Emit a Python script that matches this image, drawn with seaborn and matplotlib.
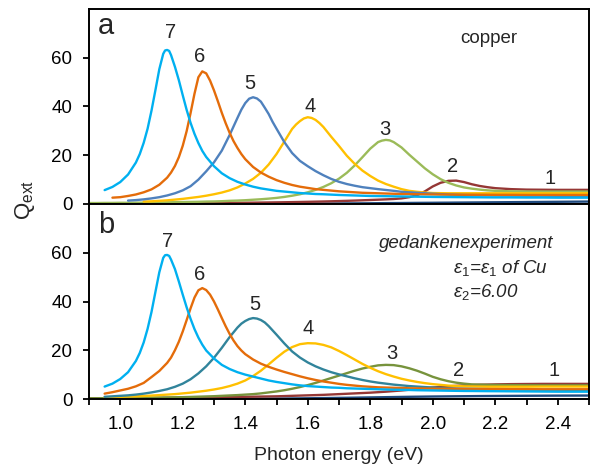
import matplotlib
matplotlib.use("Agg")
import matplotlib.pyplot as plt
from matplotlib.ticker import MultipleLocator
import pandas as pd
import seaborn as sns

nan = float("nan")

# photon energy grid (eV)
energy = [
    0.900, 0.925, 0.950, 0.975, 1.000, 1.025, 1.050, 1.075, 1.100, 1.125,
    1.150, 1.175, 1.200, 1.225, 1.250, 1.275, 1.300, 1.325, 1.350, 1.375,
    1.400, 1.425, 1.450, 1.475, 1.500, 1.525, 1.550, 1.575, 1.600, 1.625,
    1.650, 1.675, 1.700, 1.725, 1.750, 1.775, 1.800, 1.825, 1.850, 1.875,
    1.900, 1.925, 1.950, 1.975, 2.000, 2.025, 2.050, 2.075, 2.100, 2.125,
    2.150, 2.175, 2.200, 2.250, 2.300, 2.350, 2.400, 2.450, 2.500,
]

# (a) copper: extinction efficiency for structures 1..7
cu_1 = [
    0.1, 0.1, 0.1, 0.1, 0.1, 0.1, 0.1, 0.1, 0.1, 0.1,
    0.1, 0.1, 0.1, 0.1, 0.1, 0.1, 0.1, 0.1, 0.1, 0.1,
    0.1, 0.1, 0.1, 0.1, 0.1, 0.12, 0.13, 0.14, 0.15, 0.17,
    0.18, 0.2, 0.22, 0.24, 0.26, 0.28, 0.3, 0.33, 0.36, 0.38,
    0.4, 0.43, 0.46, 0.48, 0.5, 0.53, 0.55, 0.58, 0.6, 0.63,
    0.65, 0.68, 0.7, 0.75, 0.8, 0.85, 0.9, 0.95, 1.0,
]
cu_2 = [
    0.2, 0.2, 0.2, 0.22, 0.23, 0.24, 0.25, 0.26, 0.27, 0.28,
    0.3, 0.31, 0.33, 0.35, 0.37, 0.39, 0.41, 0.43, 0.46, 0.49,
    0.52, 0.55, 0.59, 0.63, 0.67, 0.72, 0.77, 0.83, 0.89, 0.96,
    1.03, 1.11, 1.2, 1.3, 1.4, 1.52, 1.64, 1.77, 1.9, 2.05,
    2.3, 2.8, 3.6, 5.2, 7.2, 8.7, 9.5, 9.6, 9.0, 8.1,
    7.4, 6.9, 6.5, 6.1, 5.9, 5.85, 5.8, 5.8, 5.8,
]
cu_3 = [
    0.4, 0.4, 0.45, 0.45, 0.5, 0.5, 0.55, 0.55, 0.6, 0.65,
    0.7, 0.75, 0.8, 0.85, 0.9, 1.0, 1.05, 1.15, 1.3, 1.4,
    1.55, 1.75, 1.95, 2.2, 2.5, 2.9, 3.4, 4.0, 4.8, 5.8,
    7.0, 8.5, 10.4, 12.8, 15.8, 19.2, 22.7, 25.4, 26.3, 25.4,
    23.2, 20.2, 17.4, 14.6, 12.2, 10.2, 8.7, 7.6, 6.8, 6.3,
    5.9, 5.6, 5.4, 5.2, 5.1, 5.1, 5.1, 5.1, 5.1,
]
cu_4 = [
    nan, nan, nan, nan, nan, nan, nan, 1.0, 1.1, 1.3,
    1.5, 1.8, 2.1, 2.5, 2.9, 3.4, 4.0, 4.7, 5.6, 6.8,
    8.4, 10.3, 12.8, 16.2, 20.5, 25.6, 30.8, 34.0, 35.6, 34.5,
    31.6, 27.6, 23.8, 19.8, 16.5, 13.7, 11.5, 9.6, 8.2, 7.1,
    6.1, 5.4, 5.0, 4.7, 4.5, 4.45, 4.4, 4.4, 4.4, 4.4,
    4.4, 4.4, 4.4, 4.4, 4.4, 4.4, 4.4, 4.4, 4.4,
]
cu_5 = [
    nan, nan, nan, nan, nan, 1.4, 1.6, 1.9, 2.3, 2.8,
    3.5, 4.4, 5.6, 7.3, 10.0, 13.4, 17.1, 21.9, 28.3, 35.3,
    41.4, 43.8, 42.0, 36.9, 30.9, 25.4, 20.9, 17.7, 15.5, 13.5,
    11.8, 10.3, 9.1, 8.2, 7.5, 6.9, 6.5, 6.1, 5.75, 5.4,
    5.0, 4.8, 4.6, 4.4, 4.2, 4.05, 3.9, 3.8, 3.7, 3.65,
    3.6, 3.55, 3.5, 3.45, 3.4, 3.4, 3.35, 3.3, 3.3,
]
cu_6 = [
    nan, nan, nan, 2.6, 2.8, 3.3, 3.9, 4.8, 6.0, 7.9,
    10.8, 15.6, 23.9, 37.3, 52.0, 53.6, 46.6, 37.4, 29.2, 23.0,
    18.4, 15.2, 12.9, 11.2, 9.8, 8.7, 7.8, 7.1, 6.6, 6.1,
    5.8, 5.5, 5.2, 5.0, 4.8, 4.6, 4.5, 4.4, 4.3, 4.2,
    4.1, 4.05, 4.0, 3.95, 3.9, 3.87, 3.85, 3.82, 3.8, 3.8,
    3.8, 3.77, 3.75, 3.75, 3.7, 3.7, 3.7, 3.7, 3.7,
]
cu_7 = [
    nan, nan, 5.7, 7.0, 9.0, 12.1, 17.0, 25.1, 38.3, 55.3,
    63.2, 56.3, 44.6, 33.3, 25.0, 19.3, 15.5, 12.6, 10.6, 9.1,
    8.0, 7.1, 6.4, 5.9, 5.4, 5.1, 4.8, 4.5, 4.3, 4.1,
    4.0, 3.85, 3.7, 3.6, 3.5, 3.4, 3.3, 3.25, 3.2, 3.15,
    3.1, 3.05, 3.0, 2.95, 2.9, 2.87, 2.85, 2.82, 2.8, 2.77,
    2.75, 2.72, 2.7, 2.7, 2.65, 2.65, 2.6, 2.6, 2.6,
]

# extra samples across the resonance peaks (copper)
cu_3_pk_e = [1.8375, 1.8625]
cu_3_pk_q = [26.0, 26.1]
cu_4_pk_e = [1.5625, 1.5875, 1.6125, 1.6375]
cu_4_pk_q = [32.6, 35.1, 35.3, 33.2]
cu_5_pk_e = [1.3625, 1.3875, 1.4125, 1.4375, 1.4625, 1.4875]
cu_5_pk_q = [31.8, 38.7, 43.2, 43.3, 39.5, 33.7]
cu_6_pk_e = [1.1625, 1.1875, 1.2125, 1.2375, 1.2625, 1.2875, 1.3125, 1.3375, 1.3625, 1.3875]
cu_6_pk_q = [12.9, 19.2, 29.9, 45.2, 54.4, 50.6, 42.1, 33.1, 25.8, 20.5]
cu_7_pk_e = [1.0625, 1.0875, 1.1125, 1.1375, 1.1435, 1.1565, 1.1625, 1.1875,
             1.2125, 1.2375, 1.2625]
cu_7_pk_q = [20.5, 30.9, 46.7, 61.6, 63.0, 62.8, 61.1, 50.8, 38.6, 28.8, 21.8]

# (b) gedankenexperiment: eps1 of Cu, eps2 fixed at 6.00
ge_1 = [
    0.1, 0.1, 0.1, 0.1, 0.1, 0.1, 0.1, 0.1, 0.1, 0.1,
    0.1, 0.1, 0.1, 0.1, 0.1, 0.1, 0.1, 0.1, 0.1, 0.1,
    0.1, 0.12, 0.14, 0.16, 0.18, 0.2, 0.23, 0.26, 0.3, 0.34,
    0.38, 0.42, 0.46, 0.5, 0.55, 0.6, 0.65, 0.7, 0.75, 0.8,
    0.85, 0.9, 0.94, 0.98, 1.02, 1.05, 1.08, 1.11, 1.14, 1.17,
    1.2, 1.22, 1.24, 1.28, 1.32, 1.35, 1.38, 1.4, 1.42,
]
ge_2 = [
    0.3, 0.3, 0.3, 0.32, 0.34, 0.36, 0.38, 0.4, 0.42, 0.45,
    0.48, 0.51, 0.54, 0.58, 0.62, 0.66, 0.7, 0.75, 0.8, 0.85,
    0.9, 0.95, 1.0, 1.05, 1.1, 1.2, 1.3, 1.4, 1.5, 1.6,
    1.7, 1.85, 2.0, 2.15, 2.3, 2.45, 2.6, 2.8, 3.0, 3.25,
    3.5, 3.8, 4.1, 4.4, 4.7, 4.95, 5.2, 5.4, 5.6, 5.72,
    5.85, 5.92, 6.0, 6.1, 6.15, 6.2, 6.2, 6.2, 6.2,
]
ge_3 = [
    0.3, 0.3, 0.35, 0.35, 0.4, 0.4, 0.45, 0.5, 0.55, 0.6,
    0.65, 0.7, 0.75, 0.85, 0.95, 1.05, 1.15, 1.3, 1.45, 1.6,
    1.8, 2.0, 2.3, 2.7, 3.1, 3.6, 4.2, 4.9, 5.7, 6.6,
    7.6, 8.6, 9.6, 10.6, 11.6, 12.5, 13.2, 13.8, 14.0, 13.9,
    13.4, 12.6, 11.6, 10.4, 9.1, 8.1, 7.3, 6.7, 6.3, 6.0,
    5.9, 5.8, 5.75, 5.7, 5.65, 5.6, 5.6, 5.6, 5.6,
]
ge_4 = [
    nan, nan, 0.7, 0.8, 0.9, 1.0, 1.1, 1.25, 1.4, 1.6,
    1.8, 2.0, 2.3, 2.6, 3.0, 3.4, 3.9, 4.5, 5.3, 6.3,
    7.6, 9.4, 11.6, 14.2, 16.9, 19.4, 21.3, 22.5, 22.9, 22.8,
    22.2, 21.2, 19.7, 18.0, 16.2, 14.4, 12.8, 11.4, 10.2, 9.2,
    8.3, 7.6, 7.0, 6.5, 6.1, 5.8, 5.5, 5.35, 5.2, 5.15,
    5.1, 5.05, 5.05, 5.05, 5.05, 5.1, 5.1, 5.1, 5.1,
]
ge_5 = [
    nan, nan, 0.9, 1.1, 1.3, 1.5, 1.8, 2.2, 2.7, 3.3,
    4.0, 5.0, 6.3, 8.1, 10.5, 13.4, 16.9, 21.0, 25.4, 29.3,
    32.0, 33.2, 32.4, 29.9, 26.4, 22.8, 19.5, 17.0, 15.0, 13.4,
    12.1, 11.0, 10.1, 9.3, 8.5, 7.8, 7.2, 6.7, 6.3, 5.9,
    5.6, 5.3, 5.1, 4.9, 4.7, 4.55, 4.4, 4.3, 4.2, 4.15,
    4.1, 4.05, 4.0, 3.9, 3.85, 3.8, 3.8, 3.75, 3.7,
]
ge_6 = [
    nan, nan, 2.2, 2.8, 3.5, 4.2, 5.2, 6.6, 9.0, 11.5,
    14.8, 20.0, 27.7, 37.2, 44.6, 44.7, 40.0, 33.2, 26.7, 21.7,
    18.4, 16.2, 14.5, 13.2, 12.1, 11.1, 10.2, 9.3, 8.5, 7.8,
    7.2, 6.7, 6.2, 5.8, 5.5, 5.2, 5.0, 4.8, 4.7, 4.6,
    4.5, 4.4, 4.35, 4.3, 4.25, 4.22, 4.2, 4.18, 4.15, 4.12,
    4.1, 4.1, 4.1, 4.05, 4.05, 4.0, 4.0, 4.0, 4.0,
]
ge_7 = [
    nan, nan, 5.1, 6.3, 8.2, 11.0, 15.6, 23.2, 35.7, 52.0,
    59.1, 53.3, 42.8, 32.9, 25.2, 19.9, 16.6, 14.0, 12.3, 11.0,
    10.0, 9.2, 8.4, 7.6, 7.0, 6.5, 6.0, 5.6, 5.3, 5.1,
    4.9, 4.7, 4.6, 4.4, 4.3, 4.2, 4.1, 4.0, 3.9, 3.8,
    3.75, 3.7, 3.6, 3.55, 3.5, 3.45, 3.4, 3.35, 3.3, 3.28,
    3.25, 3.22, 3.2, 3.15, 3.1, 3.05, 3.0, 3.0, 3.0,
]

# extra samples across the resonance peaks (gedankenexperiment)
ge_5_pk_e = [1.3875, 1.4125, 1.4375, 1.4625]
ge_5_pk_q = [30.9, 32.8, 33.0, 31.4]
ge_6_pk_e = [1.1625, 1.1875, 1.2125, 1.2375, 1.2625, 1.2875, 1.3125, 1.3375, 1.3625, 1.3875]
ge_6_pk_q = [17.0, 23.5, 32.4, 41.6, 45.5, 42.8, 36.7, 29.8, 24.0, 19.9]
ge_7_pk_e = [1.0625, 1.0875, 1.1125, 1.1375, 1.1435, 1.1565, 1.1625, 1.1875,
             1.2125, 1.2375, 1.2625]
ge_7_pk_q = [18.9, 28.8, 43.9, 57.9, 59.0, 58.7, 57.2, 48.2, 37.6, 28.7, 22.3]

curve_names = ["1", "2", "3", "4", "5", "6", "7"]
x_ticks = [1.0, 1.2, 1.4, 1.6, 1.8, 2.0, 2.2, 2.4]
y_ticks = [0, 20, 40, 60]

# number tags placed above each curve
tag_e_a = [2.377, 2.065, 1.848, 1.607, 1.416, 1.254, 1.160]
tag_q_a = [10.6, 15.3, 30.7, 40.0, 49.6, 60.6, 70.3]
tag_e_b = [2.388, 2.083, 1.869, 1.601, 1.430, 1.254, 1.152]
tag_q_b = [11.6, 11.6, 18.5, 29.1, 38.6, 51.0, 64.7]

colors_a = ["#1F497D", "#953735", "#9BBB59", "#FFC000", "#4F81BD", "#E46C0A", "#00B0F0"]
colors_b = ["#1F497D", "#953735", "#77933C", "#FFC000", "#31849B", "#E46C0A", "#00B0F0"]


def long_table(series, peaks):
    frames = []
    for name, q in zip(curve_names, series):
        frames.append(pd.DataFrame({"E": energy, "Q": q, "n": name}))
        if name in peaks:
            pe, pq = peaks[name]
            frames.append(pd.DataFrame({"E": pe, "Q": pq, "n": name}))
    df = pd.concat(frames, ignore_index=True).dropna()
    order = {n: i for i, n in enumerate(curve_names)}
    df["k"] = df["n"].map(order)
    return df.sort_values(["k", "E"]).reset_index(drop=True)


df_a = long_table([cu_1, cu_2, cu_3, cu_4, cu_5, cu_6, cu_7],
                  {"3": (cu_3_pk_e, cu_3_pk_q), "4": (cu_4_pk_e, cu_4_pk_q),
                   "5": (cu_5_pk_e, cu_5_pk_q), "6": (cu_6_pk_e, cu_6_pk_q),
                   "7": (cu_7_pk_e, cu_7_pk_q)})
df_b = long_table([ge_1, ge_2, ge_3, ge_4, ge_5, ge_6, ge_7],
                  {"5": (ge_5_pk_e, ge_5_pk_q), "6": (ge_6_pk_e, ge_6_pk_q),
                   "7": (ge_7_pk_e, ge_7_pk_q)})

sns.set_style("ticks")
plt.rcParams["font.family"] = ["Liberation Sans", "DejaVu Sans"]
plt.rcParams["mathtext.fontset"] = "custom"
plt.rcParams["mathtext.rm"] = "Liberation Sans"
plt.rcParams["mathtext.it"] = "Liberation Sans:italic"
plt.rcParams["mathtext.bf"] = "Liberation Sans:bold"

W, H = 592, 468
fig = plt.figure(figsize=(W / 100, H / 100), dpi=100)
left, width = 89 / W, 500 / W
ax_a = fig.add_axes([left, 1 - 204 / H, width, 195 / H])
ax_b = fig.add_axes([left, 1 - 399 / H, width, 195 / H])

for ax, df, cols, te, tq in ((ax_a, df_a, colors_a, tag_e_a, tag_q_a),
                             (ax_b, df_b, colors_b, tag_e_b, tag_q_b)):
    sns.lineplot(data=df, x="E", y="Q", hue="n", hue_order=curve_names,
                 palette=dict(zip(curve_names, cols)), estimator=None,
                 sort=False, linewidth=1.7, legend=False, ax=ax)
    for name, e, q in zip(curve_names, te, tq):
        ax.text(e, q, name, ha="center", va="center", fontsize=14.5)
    ax.set_xlim(0.9, 2.5)
    ax.set_ylim(0, 80)
    ax.set_xticks(x_ticks)
    ax.xaxis.set_minor_locator(MultipleLocator(0.1))
    ax.set_yticks(y_ticks)
    ax.set_xlabel("")
    ax.set_ylabel("")
    for sp in ax.spines.values():
        sp.set_visible(True)
        sp.set_linewidth(1.4)
        sp.set_color("black")
    ax.tick_params(axis="both", which="both", direction="out", length=4,
                   width=1.3, colors="black", labelsize=13.5, pad=8)

ax_a.tick_params(axis="x", which="both", bottom=False, labelbottom=False)
ax_b.set_xticklabels([f"{v:.1f}" for v in x_ticks])

ax_a.text(0.034, 0.913, "a", transform=ax_a.transAxes, fontsize=21,
          ha="center", va="center")
ax_b.text(0.034, 0.892, "b", transform=ax_b.transAxes, fontsize=21,
          ha="center", va="center")
ax_a.text(0.80, 0.851, "copper", transform=ax_a.transAxes, fontsize=13.5,
          ha="center", va="center")
ax_b.text(0.928, 0.795, "gedankenexperiment", transform=ax_b.transAxes,
          fontsize=13.5, style="italic", ha="right", va="center")
ax_b.text(0.728, 0.672, r"ε$_{\mathit{1}}$=ε$_{\mathit{1}}$ of Cu",
          transform=ax_b.transAxes, fontsize=13.5, style="italic",
          ha="left", va="center")
ax_b.text(0.728, 0.549, r"ε$_{\mathit{2}}$=6.00", transform=ax_b.transAxes,
          fontsize=13.5, style="italic", ha="left", va="center")

fig.text(25 / W, 1 - 200 / H, r"Q$_{\mathrm{ext}}$", rotation=90,
         fontsize=16, ha="center", va="center")
fig.text(339 / W, 1 - 456 / H, "Photon energy (eV)", fontsize=14,
         ha="center", va="center")

fig.savefig("out.png", dpi=100)
